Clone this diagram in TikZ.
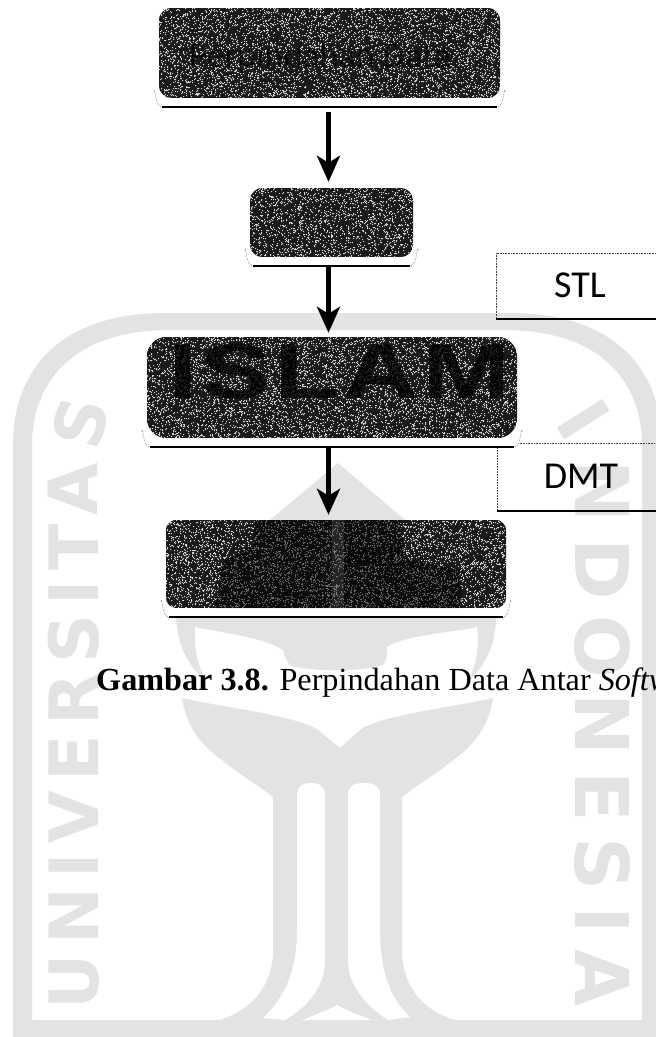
\documentclass[tikz,border=0pt]{standalone}
\usepackage{fontspec}
\setmainfont{Liberation Serif}
\newfontfamily\calib{Carlito}
\newfontfamily\wmA{DejaVu Sans}
\newfontfamily\wmC{Liberation Sans}[LetterSpace=3]
\usetikzlibrary{arrows.meta,calc,decorations.text}
\definecolor{wmgray}{HTML}{E3E3E3}
\definecolor{boxdark}{HTML}{1A1A1A}
\newcount\spk
\newcommand\speckle[5]{% x y w h n
  \begingroup\pgfsetfillcolor{white}\pgfsetfillopacity{0.8}%
  \spk=0
  \loop\ifnum\spk<#5
    \pgfmathrandominteger{\rx}{0}{#3}\pgfmathrandominteger{\ry}{0}{#4}%
    \pgfpathrectangle{\pgfpoint{\dimexpr #1pt+\rx pt\relax}{\dimexpr -#2pt-\ry pt\relax}}{\pgfqpoint{1pt}{1pt}}%
    \advance\spk by 1
  \repeat
  \pgfusepath{fill}\endgroup}
\tikzset{
  x=1pt,y=-1pt,
  wmfill/.style={fill=wmgray,draw=none},
  darkbox/.style={draw=none,fill=boxdark,rounded corners=13pt,inner sep=0pt,text width=0pt},
  halofill/.style={fill=white,draw=none,rounded corners=10pt},
  haloedge/.style={draw=black!70,line width=0.5pt,densely dotted},
  haloline/.style={draw=black,line width=1.8pt},
  conn/.style={draw=black,line width=5pt,-{Stealth[length=26pt,width=23pt,inset=7pt]}},
  sidebox/.style={draw=none,inner sep=0pt},
  sidetext/.style={font=\calib\fontsize{38}{38}\selectfont,text=black,inner sep=0pt},
  boxtext/.style={font=\calib\fontsize{36}{36}\selectfont,text=black,inner sep=0pt,opacity=0.75},
  dotline/.style={draw=black!75,line width=0.6pt,densely dotted},
  thickline/.style={draw=black,line width=1.8pt},
}
\newcommand\halo[1]{%
  \fill[halofill] ([shift={(-4,-20)}]#1.south west) rectangle ([shift={(4,9)}]#1.south east);
  \draw[haloedge] ([shift={(-5,-7)}]#1.south west) to[out=80,in=180] ([shift={(3,9)}]#1.south west);
  \draw[haloedge] ([shift={(5,-7)}]#1.south east) to[out=100,in=0] ([shift={(-3,9)}]#1.south east);
  \draw[haloline] ([shift={(3,9)}]#1.south west) -- ([shift={(-3,9)}]#1.south east);
}
\begin{document}
\begin{tikzpicture}
\pgfmathsetseed{4711}
\useasboundingbox (0,0) rectangle (656,1037);
\fill[white] (0,0) rectangle (656,1037);
% --- watermark: frame
\fill[wmfill,even odd rule]
  (13,445) .. controls (13,370) and (60,313) .. (165,313) -- (510,313)
  .. controls (615,313) and (662,370) .. (662,445) -- (662,1037) -- (13,1037) -- cycle
  (32,445) .. controls (32,385) and (70,330) .. (170,330) -- (504,330)
  .. controls (604,330) and (642,385) .. (642,445) -- (642,1020) -- (32,1020) -- cycle;
% --- watermark: emblem, upper part
\fill[wmfill] (338,463) -- (405,520) -- (480,590) -- (496,612)
  .. controls (497,645) and (485,665) .. (468,682)
  .. controls (478,660) and (479,645) .. (477,627)
  .. controls (450,633) and (405,635) .. (387,647)
  .. controls (387,656) and (386,662) .. (383,665)
  .. controls (365,672) and (305,672) .. (290,665)
  .. controls (286,660) and (284,655) .. (283,650)
  .. controls (265,638) and (225,633) .. (195,627)
  .. controls (194,645) and (196,662) .. (206,682)
  .. controls (188,665) and (176,645) .. (176,612)
  -- (195,590) -- (270,520) -- cycle;
% --- watermark: emblem, leaf and stems
\fill[wmfill] (182,698) .. controls (186,725) and (200,745) .. (222,760)
  .. controls (240,775) and (258,785) .. (273,797)
  -- (273,955) .. controls (270,990) and (250,1012) .. (213,1022)
  -- (461,1022) .. controls (424,1012) and (405,990) .. (402,955)
  -- (402,797) .. controls (417,785) and (435,775) .. (453,760)
  .. controls (475,745) and (489,725) .. (493,698)
  .. controls (450,708) and (380,715) .. (360,730)
  -- (340,748) -- (318,730)
  .. controls (295,715) and (225,708) .. (182,698) -- cycle;
\fill[white] (297,795) .. controls (297,787) and (302,783) .. (311,783)
  .. controls (320,783) and (325,787) .. (325,795) -- (325,960)
  .. controls (325,985) and (310,1005) .. (285,1020) -- (263,1018)
  .. controls (282,1000) and (297,975) .. (297,930) -- cycle;
\fill[white] (348,795) .. controls (348,787) and (353,783) .. (364,783)
  .. controls (376,783) and (380,787) .. (380,795) -- (380,930)
  .. controls (380,975) and (392,1000) .. (410,1017) -- (388,1020)
  .. controls (365,1005) and (348,985) .. (348,960) -- cycle;
\fill[white] (302,1020) .. controls (315,1015) and (328,1010) .. (337,1005)
  .. controls (346,1010) and (358,1015) .. (372,1020) -- cycle;
% --- watermark: lettering
\path[decorate,decoration={text along path,text align={fit to path},
  text={|\wmA\bfseries\color{wmgray}\fontsize{68}{68}\selectfont|UNIVERSITAS}}]
  (98,1009) -- (98,490) .. controls (98,455) and (102,430) .. (112,406);
\path[decorate,decoration={text along path,text align={fit to path},
  text={|\wmA\bfseries\color{wmgray}\fontsize{74}{74}\selectfont|INDONESIA}}]
  (553,423) .. controls (568,440) and (575,460) .. (575,490) -- (575,1007);
% --- side boxes
\node[sidebox,minimum width=162pt,minimum height=66pt] (stlbox) at (577,286) {};
\draw[dotline] (stlbox.south west) -- (stlbox.north west) -- (stlbox.north east);
\draw[thickline] (stlbox.south west) -- (stlbox.south east);
\node[sidetext] (stl) at (580,285) {STL};
\node[sidebox,minimum width=160pt,minimum height=68pt] (dmtbox) at (577,477) {};
\draw[dotline] (dmtbox.south west) -- (dmtbox.north west) -- (dmtbox.north east);
\draw[thickline] (dmtbox.south west) -- (dmtbox.south east);
\node[sidetext] (dmt) at (581,476) {DMT};
% --- dark boxes
\node[darkbox,minimum width=341pt,minimum height=90pt] (b1) at (329.5,53) {};
\node[darkbox,minimum width=163pt,minimum height=69pt] (b2) at (331.5,222.5) {};
\node[darkbox,minimum width=370pt,minimum height=101pt,rounded corners=20pt] (b3) at (332,387.5) {};
\node[darkbox,minimum width=340pt,minimum height=88pt,rounded corners=11pt] (b4) at (336,564) {};
\halo{b1}\halo{b2}\halo{b3}\halo{b4}
% boxes over their halos, with the speckle clipped to each
\begin{scope}
\clip[rounded corners=13pt] (b1.north west) rectangle (b1.south east);
\fill[boxdark] (b1.north west) rectangle (b1.south east);
\speckle{159}{8}{341}{90}{5000}
\node[boxtext] (t1) at (320,58) {Perpindahan Data};
\end{scope}
\begin{scope}
\clip[rounded corners=13pt] (b2.north west) rectangle (b2.south east);
\fill[boxdark] (b2.north west) rectangle (b2.south east);
\speckle{250}{188}{163}{69}{1800}
\end{scope}
\begin{scope}
\clip[rounded corners=20pt] (b3.north west) rectangle (b3.south east);
\fill[boxdark] (b3.north west) rectangle (b3.south east);
\speckle{147}{337}{370}{101}{6000}
\node[anchor=base west,inner sep=0pt,text=black,opacity=0.8,xscale=1.36,transform shape,font=\wmC\bfseries\fontsize{78}{78}\selectfont] (t3) at (168,398) {ISLAM};
\end{scope}
\begin{scope}
\clip[rounded corners=11pt] (b4.north west) rectangle (b4.south east);
\fill[boxdark] (b4.north west) rectangle (b4.south east);
\speckle{166}{520}{340}{88}{5000}
\fill[black,opacity=0.5] (255,520) -- (400,520) -- (405,558) -- (460,570) -- (462,608) -- (215,608) -- (222,562) -- (253,545) -- cycle;
\fill[white,opacity=0.1] (332,520) rectangle (344,608);
\node[boxtext,font=\calib\fontsize{28}{28}\selectfont] (t4) at (373,558) {MILL};
\end{scope}
% --- connectors
\coordinate (ax) at (328.5,0);
\draw[conn,shorten <=14pt,shorten >=6pt] (ax |- b1.south) -- (ax |- b2.north);
\draw[conn,shorten <=8pt,shorten >=4pt] (ax |- b2.south) -- (ax |- b3.north);
\draw[conn,shorten <=8pt,shorten >=5pt] (ax |- b3.south) -- (ax |- b4.north);
% --- caption
\node[anchor=base west,inner sep=0pt,font=\fontsize{32.2}{33}\selectfont] (cap) at (96,690) {\textbf{Gambar 3.8.} Perpindahan Data Antar \textit{Softw}};
\end{tikzpicture}
\end{document}
